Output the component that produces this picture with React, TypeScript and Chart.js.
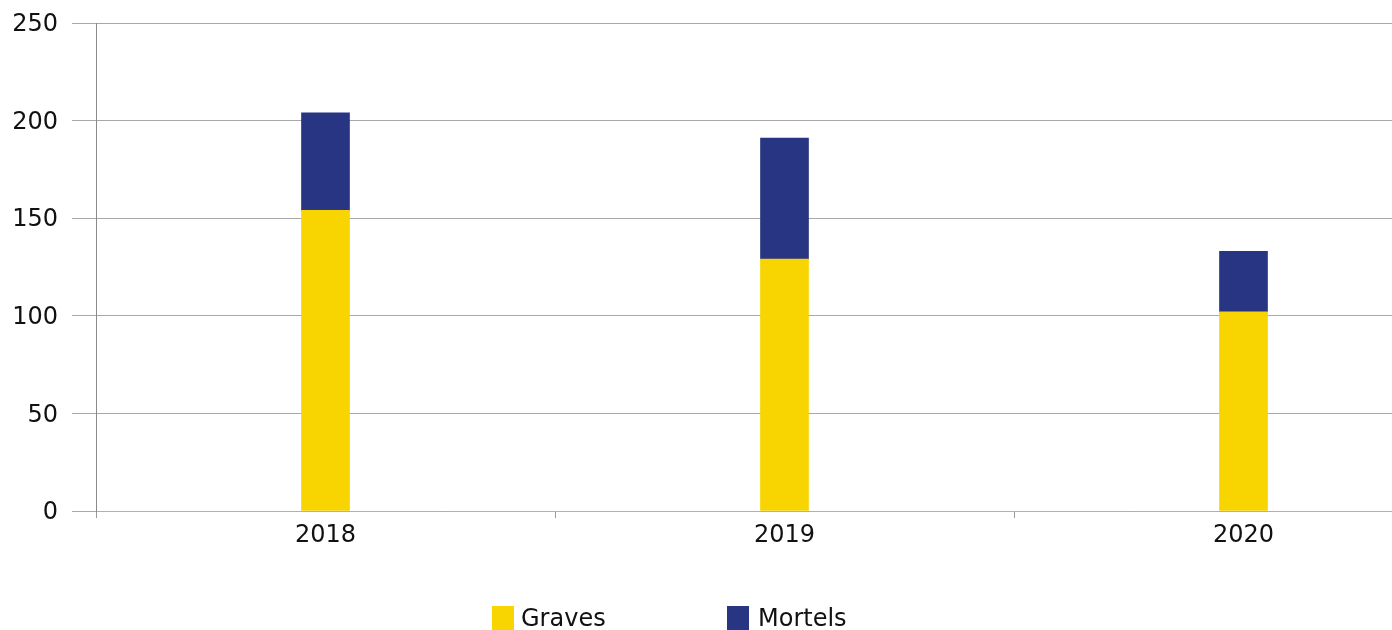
import React, { useEffect, useRef } from 'react';
import { Chart, registerables } from 'chart.js';

Chart.register(...registerables);

const categories = ['2018', '2019', '2020'];
const graves = [154, 129, 102];
const mortels = [50, 62, 31];
const legendLabels = ['Graves', 'Mortels'];
const colors = ['#f8d400', '#283583'];

const FONT = "'DejaVu Sans', sans-serif";

export default function App() {
  const ref = useRef<HTMLCanvasElement | null>(null);

  useEffect(() => {
    if (!ref.current) return;
    const chart = new Chart(ref.current, {
      type: 'bar',
      data: {
        labels: categories,
        datasets: [
          { label: legendLabels[0], data: graves, backgroundColor: colors[0], barThickness: 48 },
          { label: legendLabels[1], data: mortels, backgroundColor: colors[1], barThickness: 48 },
        ],
      },
      options: {
        responsive: false,
        animation: false,
        layout: { padding: { top: 23, right: 0, left: 0, bottom: 0 } },
        plugins: { legend: { display: false }, tooltip: { enabled: false } },
        scales: {
          x: {
            stacked: true,
            offset: true,
            grid: { offset: true, drawOnChartArea: false, drawTicks: true, tickLength: 7, color: '#9a9a9a' },
            border: { color: '#b0b0b0', width: 1 },
            ticks: { color: '#111', font: { family: FONT, size: 24 }, padding: 3 },
            afterFit: (axis: any) => { axis.height = 119; axis.paddingLeft = 0; axis.paddingRight = 0; },
          },
          y: {
            stacked: true,
            min: 0,
            max: 250,
            ticks: { stepSize: 50, color: '#111', font: { family: FONT, size: 24 }, padding: 14, labelOffset: 2 },
            grid: { color: '#a8a8a8', tickLength: 24, lineWidth: 1 },
            border: { color: '#8a8a8a', width: 1 },
            afterFit: (axis: any) => { axis.width = 96; axis.paddingTop = 0; axis.paddingBottom = 0; },
          },
        },
      },
    });
    return () => chart.destroy();
  }, []);

  const legendItem = (i: number, boxLeft: number, textLeft: number) => (
    <React.Fragment key={i}>
      <div style={{ position: 'absolute', left: boxLeft, top: 606, width: 22, height: 24, background: colors[i] }} />
      <div
        style={{
          position: 'absolute',
          left: textLeft,
          top: 606,
          fontFamily: FONT,
          fontSize: 24,
          lineHeight: '24px',
          color: '#111',
          whiteSpace: 'nowrap',
        }}
      >
        {legendLabels[i]}
      </div>
    </React.Fragment>
  );

  return (
    <div style={{ position: 'absolute', left: 0, top: 0, width: 1392, height: 630, overflow: 'hidden', background: '#fff' }}>
      <canvas ref={ref} width={1473} height={630} style={{ width: 1473, height: 630, display: 'block' }} />
      {legendItem(0, 492, 521)}
      {legendItem(1, 727, 758)}
    </div>
  );
}
